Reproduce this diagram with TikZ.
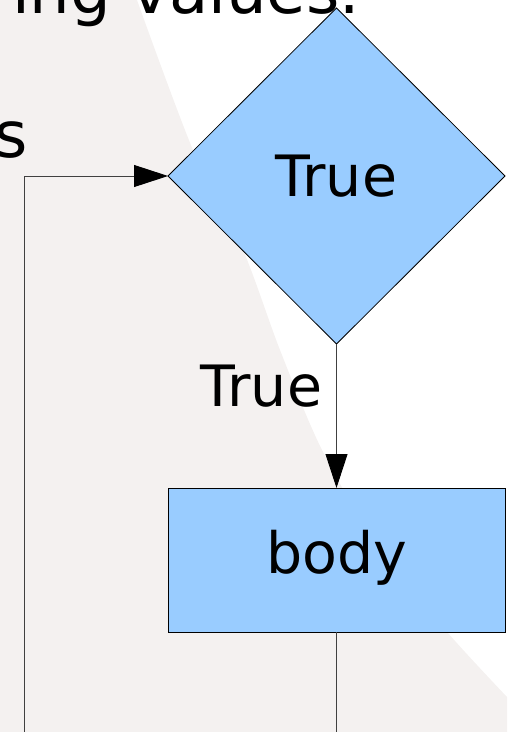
\documentclass[tikz,border=0pt]{standalone}
\usepackage{fontspec}
\setmainfont{DejaVu Sans}
\usetikzlibrary{shapes.geometric,arrows.meta}
\definecolor{boxblue}{HTML}{99CCFF}
\definecolor{bggrey}{HTML}{F4F1F0}
\begin{document}
\begin{tikzpicture}[x=1pt,y=-1pt,
  flow/.style={draw=black, line width=0.8pt, fill=boxblue, inner sep=0pt, outer sep=0pt, font=\fontsize{57}{68}\selectfont},
  conn/.style={draw=black!75, line width=0.9pt},
  tipped/.style={-{Triangle[length=34pt,width=22pt,black]}},
  big/.style={font=\fontsize{64}{76}\selectfont, inner sep=0pt, outer sep=0pt}]
\useasboundingbox (0,0) rectangle (507,732);
\clip (0,0) rectangle (507,732);
\fill[bggrey] (0,732) -- (0,0) -- plot[smooth] coordinates {(137,0) (193,150) (243,250) (280,350) (322,450) (380,550) (448,633) (507,697)} -- (507,732) -- cycle;
\node[big, anchor=base east] (title) at (360,13) {ing values.};
\node[big, anchor=base east] (s) at (28,157) {s};
\node[flow, diamond, minimum width=337pt, minimum height=336pt] (cond) at (336.5,176) {True};
\node[flow, rectangle, minimum width=337pt, minimum height=144pt, text height=43pt, text depth=17pt] (body) at (336.5,560) {body};
\coordinate (loopstart) at (24,732);
\coordinate (exit) at (336.5,732);
\draw[conn, tipped] (loopstart) |- (cond.west);
\draw[conn, tipped] (cond.south) -- node[pos=0.292, left, inner sep=0pt, xshift=-14pt, font=\fontsize{57}{68}\selectfont] (lbl) {True} (body.north);
\draw[conn] (body.south) -- (exit);
\end{tikzpicture}
\end{document}
